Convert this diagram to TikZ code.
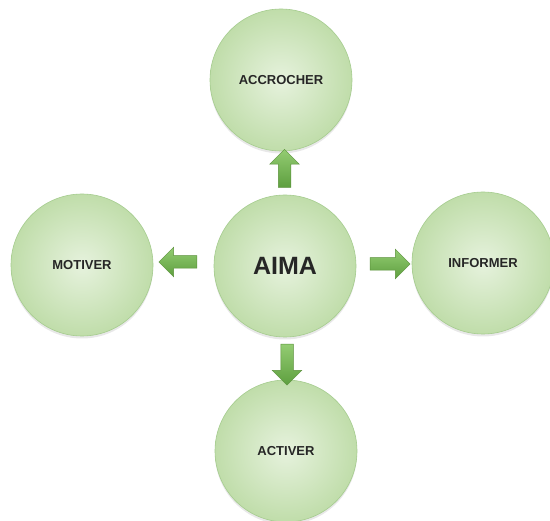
\documentclass[tikz,border=0pt]{standalone}
\usepackage{fontspec}
\setmainfont{Liberation Sans}
\usetikzlibrary{shapes.arrows,shadows}
\definecolor{cin}{HTML}{E6F2DD}
\definecolor{cout}{HTML}{C0DDAA}
\definecolor{cborder}{HTML}{A5CC8E}
\definecolor{atop}{HTML}{93CC72}
\definecolor{abot}{HTML}{5E9F3F}
\definecolor{aborder}{HTML}{5A913A}
\definecolor{txt}{HTML}{262626}
\begin{document}
\begin{tikzpicture}[x=1pt,y=-1pt,
  bubble/.style={circle, minimum size=142pt, inner sep=0pt,
    inner color=cin, outer color=cout, draw=cborder, line width=0.6pt,
    drop shadow={shadow xshift=0pt, shadow yshift=-2.5pt, opacity=0.18},
    font=\bfseries\fontsize{13}{15}\selectfont, text=txt},
  blockarrow/.style={single arrow, draw=aborder, line width=0.5pt,
    top color=atop, bottom color=abot, inner sep=6pt,
    single arrow head extend=8.5pt, minimum height=38pt}]
  \fill[white] (0,0) rectangle (550,521);
  \useasboundingbox (0,0) rectangle (550,521);

  \node[bubble] (acc)  at (281,80)  {ACCROCHER};
  \node[bubble, font=\bfseries\fontsize{25}{28}\selectfont] (aima) at (285,266) {AIMA};
  \node[bubble] (mot)  at (82,265)  {MOTIVER};
  \node[bubble] (inf)  at (483,263) {INFORMER};
  \node[bubble] (act)  at (286,451) {ACTIVER};

  \node[blockarrow, shape border rotate=90]  (aup)    at (284.5,171.5) {};
  \node[blockarrow, shape border rotate=180] (aleft)  at (181,262)   {};
  \node[blockarrow, shape border rotate=0, minimum height=40pt] (aright) at (387,264) {};
  \node[blockarrow, shape border rotate=270, minimum height=41pt] (adown) at (287,361.5) {};
\end{tikzpicture}
\end{document}
